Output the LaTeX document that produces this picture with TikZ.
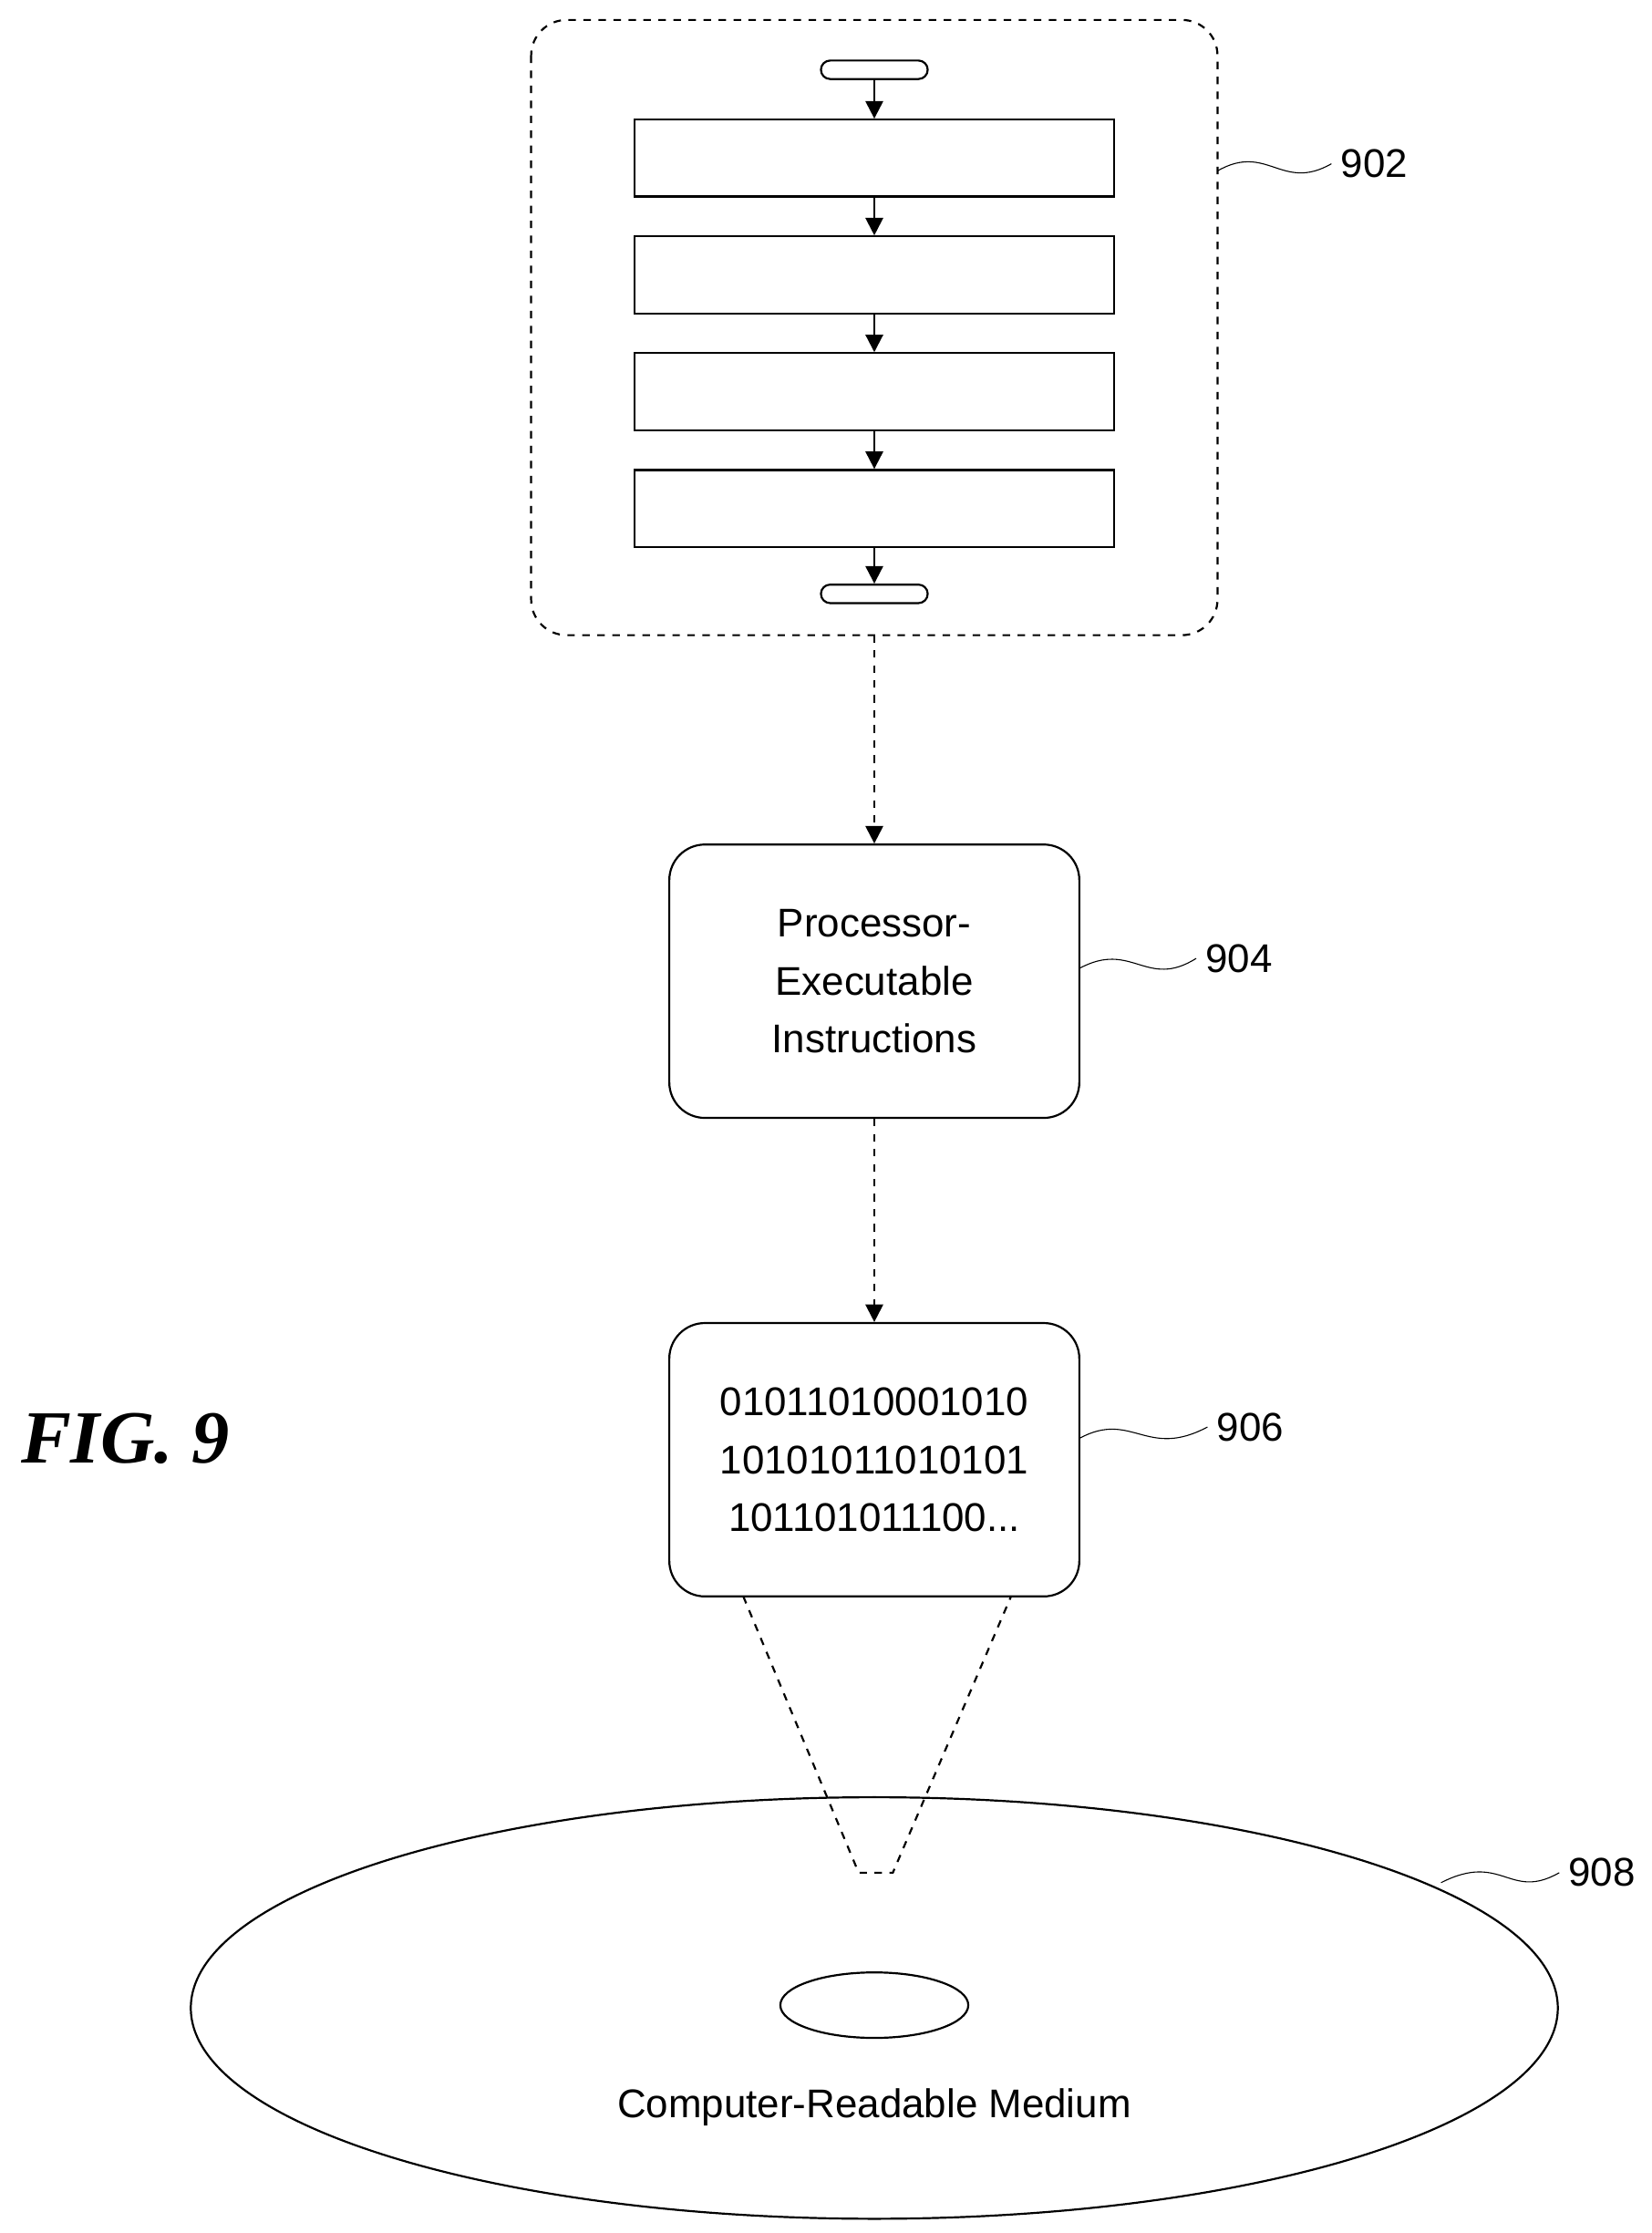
\documentclass[tikz,border=0pt]{standalone}
\usepackage{fontspec}
\setmainfont{Liberation Sans}
\newfontfamily\figfont{Liberation Serif}
\usetikzlibrary{positioning,arrows.meta,decorations.pathmorphing}

\begin{document}
\begin{tikzpicture}[x=0.02cm,y=-0.02cm,thick,
 stepbox/.style={draw,minimum width=6.74cm,minimum height=1.08cm,inner sep=0pt},
 pill/.style={draw,rounded corners=0.13cm,minimum width=1.5cm,minimum height=0.26cm,inner sep=0pt},
 block/.style={draw,rounded corners=0.5cm,minimum width=5.76cm,minimum height=3.84cm,
  align=center,font=\fontsize{16}{23}\selectfont},
 flow/.style={-{Triangle[length=7pt,width=7pt]}},
 link/.style={dashed,-{Triangle[length=7pt,width=7pt]}},
 squig/.style={thin},
 ref/.style={font=\fontsize{16}{18}\selectfont}]
 \useasboundingbox (0,0) rectangle (1160,1568);

 % flowchart 902
 \draw[dashed,rounded corners=0.5cm] (373,14) rectangle (855,446);
 \node[pill] (start) at (614,49) {};
 \foreach \i/\y in {1/111,2/193,3/275,4/357}
  \node[stepbox] (s\i) at (614,\y) {};
 \node[pill] (stop) at (614,417) {};
 \draw[flow] (start) -- (s1);
 \draw[flow] (s1) -- (s2);
 \draw[flow] (s2) -- (s3);
 \draw[flow] (s3) -- (s4);
 \draw[flow] (s4) -- (stop);
 \coordinate (c902) at (855,120);

 % instructions
 \node[block] (instr) at (614,689) {Processor-\\Executable\\Instructions};
 \node[block] (bits) at (614,1025) {01011010001010\\10101011010101\\101101011100...};
 \draw[link] (614,446) coordinate (b902) -- (instr);
 \draw[link] (instr) -- (bits);

 % medium
 \draw (614,1410) ellipse (480 and 148);
 \draw (614,1408) ellipse (66 and 23);
 \node[font=\fontsize{16}{18}\selectfont] (crm) at (614,1480) {Computer-Readable Medium};
 \draw[dashed] (522,1121) -- (603,1315) -- (627,1315) -- (710,1121);

 % reference numerals
 \node[ref] (n902) at (965,115) {902};
 \node[ref] (n904) at (870,673) {904};
 \node[ref] (n906) at (878,1002) {906};
 \node[ref] (n908) at (1125,1315) {908};
 \draw[squig] (c902) .. controls (890,100) and (900,135) .. (n902.west);
 \draw[squig] (758,680) .. controls (795,660) and (805,695) .. (n904.west);
 \draw[squig] (758,1010) .. controls (795,990) and (805,1025) .. (n906.west);
 \draw[squig] (1012,1322) .. controls (1055,1300) and (1060,1335) .. (n908.west);

 \node[font=\figfont\bfseries\itshape\fontsize{30}{32}\selectfont] (fig) at (88,1010) {FIG. 9};
\end{tikzpicture}
\end{document}
